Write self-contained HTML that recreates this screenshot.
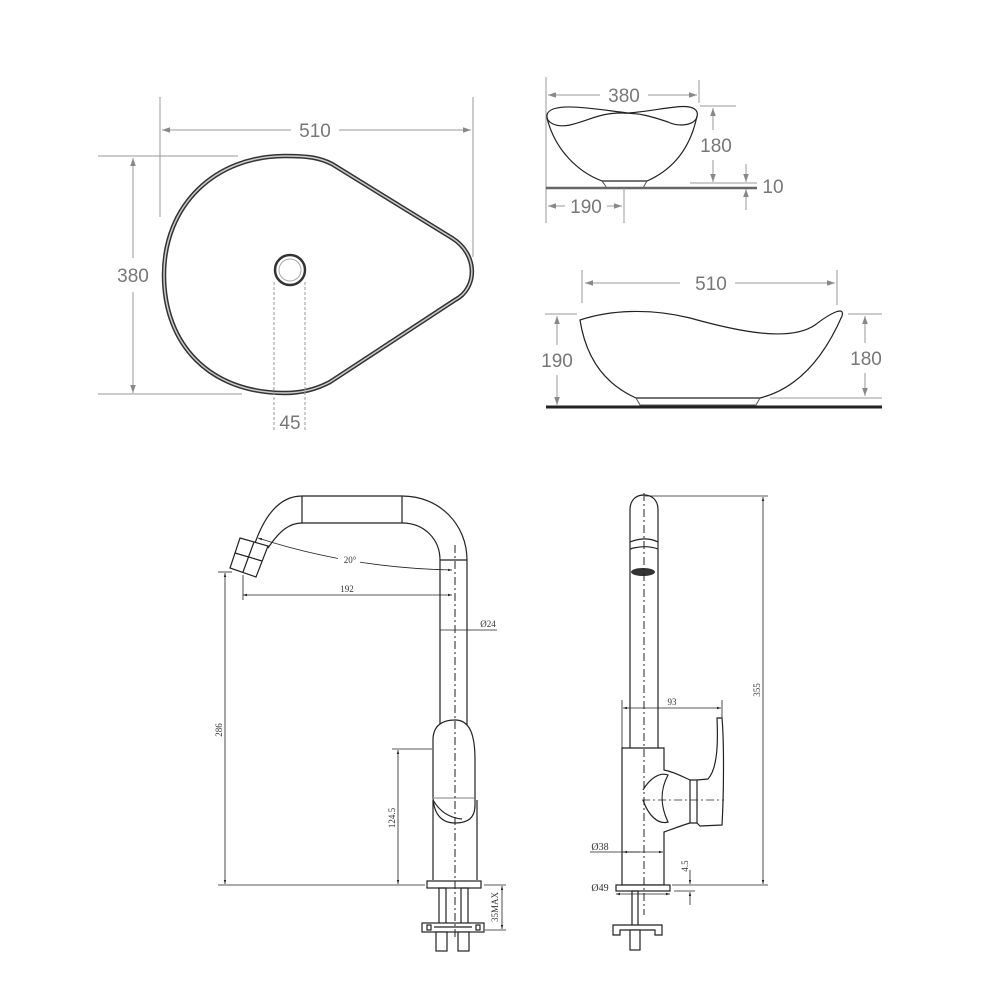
<!DOCTYPE html>
<html><head><meta charset="utf-8"><style>
html,body{margin:0;padding:0;background:#fff}
svg{display:block}
.g{stroke:#999;stroke-width:1;fill:none}
.k{stroke:#222;stroke-width:1.2;fill:none}
.t{font-family:"Liberation Sans",sans-serif;font-size:19px;fill:#777;text-anchor:middle}
.s{font-family:"Liberation Serif",serif;font-size:9px;fill:#333;text-anchor:middle}
</style></head><body>
<svg width="1000" height="1000" viewBox="0 0 1000 1000" xmlns="http://www.w3.org/2000/svg">
<defs>
<marker id="a" viewBox="0 0 10 10" refX="10" refY="5" markerWidth="10" markerHeight="8" orient="auto-start-reverse"><path d="M0,1.5 L10,5 L0,8.5 Z" fill="#888"/></marker>
<marker id="b" viewBox="0 0 10 10" refX="10" refY="5" markerWidth="7" markerHeight="5" orient="auto-start-reverse"><path d="M0,2 L10,5 L0,8 Z" fill="#222"/></marker>
</defs>

<!-- TOP LEFT -->
<line class="g" x1="160" y1="97" x2="160" y2="217"/>
<line class="g" x1="473" y1="97" x2="473" y2="257"/>
<line class="g" x1="162" y1="130" x2="291" y2="130" marker-start="url(#a)"/>
<line class="g" x1="339" y1="130" x2="471" y2="130" marker-end="url(#a)"/>
<text class="t" x="315" y="137">510</text>
<line class="g" x1="98" y1="156" x2="238" y2="156"/>
<line class="g" x1="98" y1="394" x2="242" y2="394"/>
<line class="g" x1="133" y1="158" x2="133" y2="258" marker-start="url(#a)"/>
<line class="g" x1="133" y1="292" x2="133" y2="393" marker-end="url(#a)"/>
<text class="t" x="133" y="282">380</text>
<path d="M285,156 C310,156 320,158 332,164 L452,238 C478,254 478,288 455,300 L330,382 C315,390 300,393 285,393 C210,393 164,345 164,275 C164,205 215,156 285,156 Z" fill="none" stroke="#333" stroke-width="4.5"/>
<path d="M285,156 C310,156 320,158 332,164 L452,238 C478,254 478,288 455,300 L330,382 C315,390 300,393 285,393 C210,393 164,345 164,275 C164,205 215,156 285,156 Z" fill="none" stroke="#ccc" stroke-width="1.5"/>
<circle cx="290" cy="270" r="15" fill="none" stroke="#333" stroke-width="2.5"/>
<circle cx="290" cy="270" r="11" fill="none" stroke="#aaa" stroke-width="1"/>
<line class="g" x1="274" y1="282" x2="274" y2="430" stroke-dasharray="3,2"/>
<line class="g" x1="305" y1="282" x2="305" y2="430" stroke-dasharray="3,2"/>
<text class="t" x="290" y="429">45</text>

<!-- TOP RIGHT side view 1 -->
<line class="g" x1="546" y1="77" x2="546" y2="223"/>
<line class="g" x1="699" y1="80" x2="699" y2="103"/>
<line class="g" x1="548" y1="95" x2="600" y2="95" marker-start="url(#a)"/>
<line class="g" x1="648" y1="95" x2="697" y2="95" marker-end="url(#a)"/>
<text class="t" x="624" y="102">380</text>
<path class="k" stroke-width="1.6" d="M547,115 C550,100 600,110 628,113 C660,111 692,100 697,112 C700,125 680,128 668,122 C650,116 640,113 621,113 C600,113 590,120 570,125 C555,128 546,122 547,115 Z"/>
<path class="k" stroke-width="1.6" d="M547,118 C555,150 578,172 602,181 L647,181 C672,170 690,150 697,116"/>
<path d="M602,181 L607,188 L643,188 L647,181" fill="none" stroke="#555" stroke-width="1"/>
<line x1="546" y1="188" x2="757" y2="188" stroke="#666" stroke-width="2.5"/>
<line class="g" x1="690" y1="183" x2="757" y2="183"/>
<line class="g" x1="700" y1="106" x2="736" y2="106"/>
<line class="g" x1="713" y1="108" x2="713" y2="130" marker-start="url(#a)"/>
<line class="g" x1="713" y1="160" x2="713" y2="182" marker-end="url(#a)"/>
<text class="t" x="716" y="152">180</text>
<line class="g" x1="746" y1="164" x2="746" y2="182" marker-end="url(#a)"/>
<line class="g" x1="746" y1="210" x2="746" y2="189" marker-end="url(#a)"/>
<text class="t" x="773" y="193">10</text>
<line class="g" x1="624" y1="188" x2="624" y2="223"/>
<line class="g" x1="548" y1="206" x2="565" y2="206" marker-start="url(#a)"/>
<line class="g" x1="607" y1="206" x2="622" y2="206" marker-end="url(#a)"/>
<text class="t" x="586" y="213">190</text>

<!-- side view 2 -->
<line class="g" x1="582" y1="270" x2="582" y2="303"/>
<line class="g" x1="837" y1="270" x2="837" y2="305"/>
<line class="g" x1="585" y1="283" x2="680" y2="283" marker-start="url(#a)"/>
<line class="g" x1="735" y1="283" x2="835" y2="283" marker-end="url(#a)"/>
<text class="t" x="711" y="290">510</text>
<path class="k" stroke-width="1.6" d="M580,320 C610,310 650,308 690,318 C740,332 790,342 815,325 C832,312 845,306 842,316 C825,355 800,388 760,398 L636,398 C600,382 585,352 580,320 Z"/>
<path d="M636,398 L640,405 L756,405 L760,398" fill="none" stroke="#555" stroke-width="1"/>
<line x1="546" y1="407" x2="882" y2="407" stroke="#222" stroke-width="3"/>
<line class="g" x1="545" y1="314" x2="577" y2="314"/>
<line class="g" x1="848" y1="314" x2="882" y2="314"/>
<line class="g" x1="770" y1="398" x2="882" y2="398"/>
<line class="g" x1="557" y1="316" x2="557" y2="345" marker-start="url(#a)"/>
<line class="g" x1="557" y1="375" x2="557" y2="405" marker-end="url(#a)"/>
<text class="t" x="557" y="367">190</text>
<line class="g" x1="865" y1="316" x2="865" y2="343" marker-start="url(#a)"/>
<line class="g" x1="865" y1="373" x2="865" y2="396" marker-end="url(#a)"/>
<text class="t" x="866" y="365">180</text>

<!-- FAUCET LEFT -->
<g class="k" stroke-width="1">
<path d="M255,543 C265,515 280,496 302,496 L402,496 C440,496 467,525 467,560 L467,740"/>
<path d="M268,548 C280,530 290,523 302,523 L402,523 C425,523 440,540 440,560 L440,730"/>
<line x1="302" y1="496" x2="302" y2="523"/>
<line x1="402" y1="496" x2="402" y2="523"/>
<line x1="440" y1="560" x2="467" y2="560"/>
<path d="M240,538 L268,546 L256,577 L230,568 Z" fill="#fff"/>
<line x1="235" y1="553" x2="262" y2="561"/>
<line x1="254" y1="542" x2="243" y2="572"/>
<path d="M433,740 C433,725 443,720 455,720 C470,720 475,735 475,760 L475,805 C475,818 468,823 455,823 C440,823 433,812 433,795 Z" fill="#fff"/>
<path d="M433,800 C440,812 450,818 462,819"/>
<line x1="433" y1="798" x2="474" y2="798" stroke="#999"/>
<path d="M433,800 L433,880 M477,800 L477,880"/>
<rect x="427" y="881" width="54" height="7" fill="#fff"/>
<rect x="439" y="888" width="7" height="40"/>
<rect x="461" y="888" width="7" height="40"/>
<rect x="422" y="923" width="62" height="9" fill="#fff"/>
<rect x="427" y="925" width="4" height="5"/>
<rect x="476" y="925" width="4" height="5"/>
<line x1="434" y1="927" x2="472" y2="927"/>
<rect x="436" y="932" width="11" height="19" fill="#fff"/>
<rect x="458" y="932" width="11" height="19" fill="#fff"/>
</g>
<line x1="455" y1="545" x2="455" y2="940" stroke="#222" stroke-width="1" stroke-dasharray="8,3,2,3"/>
<path d="M258,538 Q350,568 452,570" fill="none" stroke="#222" stroke-width="0.8" marker-start="url(#b)" marker-end="url(#b)"/>
<rect x="338" y="553" width="22" height="12" fill="#fff"/>
<text class="s" x="350" y="563">20°</text>
<line x1="243" y1="575" x2="243" y2="600" stroke="#222" stroke-width="0.8"/>
<line x1="243" y1="595" x2="452" y2="595" stroke="#222" stroke-width="0.8" marker-start="url(#b)" marker-end="url(#b)"/>
<text class="s" x="347" y="592">192</text>
<line x1="440" y1="630" x2="497" y2="630" stroke="#222" stroke-width="0.8"/>
<text class="s" x="488" y="627">Ø24</text>
<line x1="218" y1="572" x2="232" y2="572" stroke="#222" stroke-width="0.8"/>
<line x1="218" y1="885" x2="425" y2="885" stroke="#222" stroke-width="0.8"/>
<line x1="225" y1="573" x2="225" y2="884" stroke="#222" stroke-width="0.8" marker-start="url(#b)" marker-end="url(#b)"/>
<text class="s" transform="translate(222,730) rotate(-90)">286</text>
<line x1="392" y1="749" x2="432" y2="749" stroke="#222" stroke-width="0.8"/>
<line x1="398" y1="750" x2="398" y2="884" stroke="#222" stroke-width="0.8" marker-start="url(#b)" marker-end="url(#b)"/>
<text class="s" transform="translate(395,818) rotate(-90)">124.5</text>
<line x1="485" y1="930" x2="506" y2="930" stroke="#222" stroke-width="0.8"/>
<line x1="484" y1="885" x2="506" y2="885" stroke="#222" stroke-width="0.8"/>
<line x1="502" y1="886" x2="502" y2="929" stroke="#222" stroke-width="0.8" marker-start="url(#b)" marker-end="url(#b)"/>
<text class="s" transform="translate(498,907) rotate(-90)">35MAX</text>

<!-- FAUCET RIGHT -->
<g class="k" stroke-width="1">
<path d="M630,748 L630,510 C630,500 636,495 644,495 C652,495 658,500 658,510 L658,748"/>
<path d="M630,542 C640,538 650,538 658,542 M630,549 C640,546 650,546 658,549"/>
<path d="M622,748 L664,748 L664,770 C675,772 685,778 690,780 L697,780 L697,823 L690,823 C680,826 670,830 664,832 L664,885 L622,885 Z" fill="#fff"/>
<path d="M643,790 C650,778 660,772 668,775 C660,790 660,805 668,822 C658,825 648,815 643,800"/>
<path d="M697,780 L708,779 C718,768 718,740 717,718 L722,718 C724,740 724,790 722,825 L700,826 L697,823"/>
<line x1="690" y1="780" x2="690" y2="823"/>
<rect x="616" y="885" width="54" height="6" fill="#fff"/>
<rect x="632" y="891" width="6" height="35"/>
<path d="M613,935 L613,925 L662,925 L662,935 L655,935 L655,930 L620,930 L620,935 Z" fill="#fff"/>
<rect x="630" y="930" width="10" height="20" fill="#fff"/>
</g>
<ellipse cx="643" cy="572" rx="12" ry="4" fill="#333"/>
<line x1="644" y1="493" x2="644" y2="915" stroke="#222" stroke-width="1" stroke-dasharray="8,3,2,3"/>
<line x1="642" y1="800" x2="724" y2="800" stroke="#222" stroke-width="0.8" stroke-dasharray="8,3,2,3"/>
<line x1="645" y1="496" x2="768" y2="496" stroke="#222" stroke-width="0.8"/>
<line x1="672" y1="885" x2="768" y2="885" stroke="#222" stroke-width="0.8"/>
<line x1="763" y1="497" x2="763" y2="884" stroke="#222" stroke-width="0.8" marker-start="url(#b)" marker-end="url(#b)"/>
<text class="s" transform="translate(760,690) rotate(-90)">355</text>
<line x1="622" y1="700" x2="622" y2="748" stroke="#222" stroke-width="0.8"/>
<line x1="722" y1="700" x2="722" y2="718" stroke="#222" stroke-width="0.8"/>
<line x1="623" y1="708" x2="721" y2="708" stroke="#222" stroke-width="0.8" marker-start="url(#b)" marker-end="url(#b)"/>
<text class="s" x="672" y="705">93</text>
<line x1="590" y1="852" x2="663" y2="852" stroke="#222" stroke-width="0.8" marker-end="url(#b)"/>
<line x1="623" y1="852" x2="640" y2="852" stroke="#222" stroke-width="0.8" marker-start="url(#b)"/>
<text class="s" x="600" y="850" style="font-size:10px">Ø38</text>
<line x1="616" y1="894" x2="670" y2="894" stroke="#222" stroke-width="0.8" marker-start="url(#b)" marker-end="url(#b)"/>
<text class="s" x="600" y="891" style="font-size:10px">Ø49</text>
<line x1="674" y1="891" x2="695" y2="891" stroke="#222" stroke-width="0.8"/>
<line x1="690" y1="870" x2="690" y2="884" stroke="#222" stroke-width="0.8" marker-end="url(#b)"/>
<line x1="690" y1="905" x2="690" y2="892" stroke="#222" stroke-width="0.8" marker-end="url(#b)"/>
<text class="s" transform="translate(688,866) rotate(-90)">4.5</text>
</svg>
</body></html>
